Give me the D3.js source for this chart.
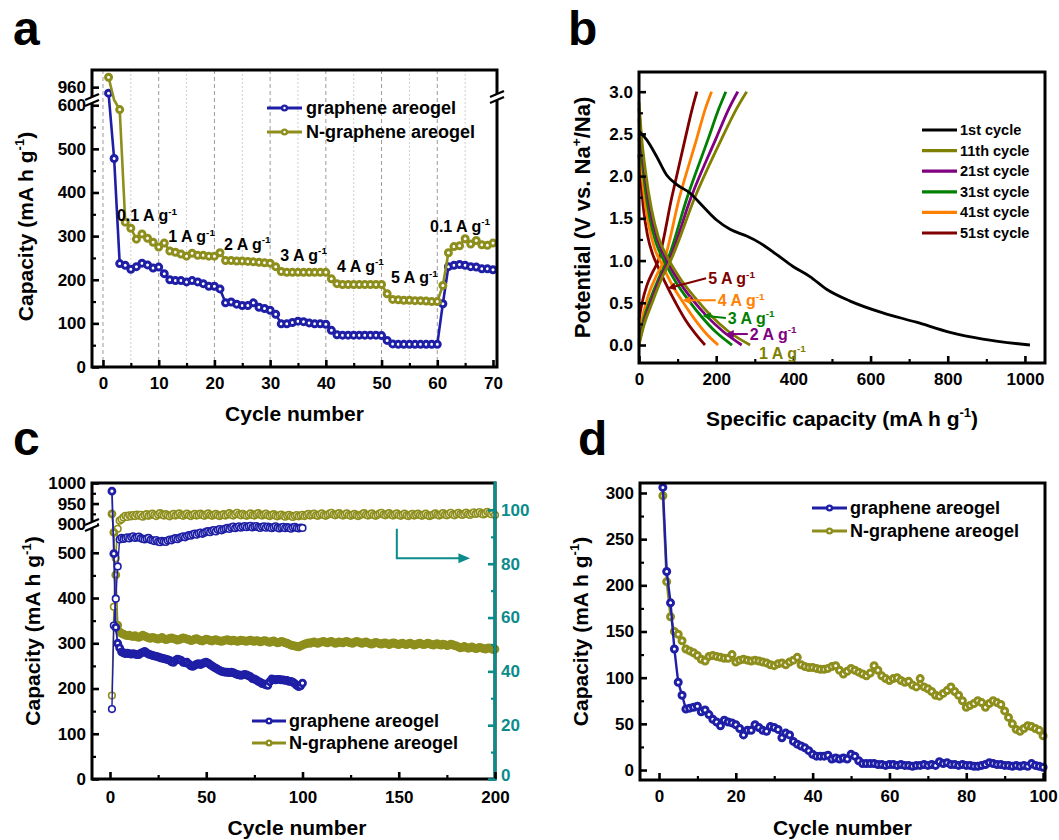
<!DOCTYPE html>
<html><head><meta charset="utf-8">
<script src="https://cdn.jsdelivr.net/npm/d3@7"></script>
<style>body{margin:0;background:#fff}</style>
</head><body><svg id="c" width="1059" height="840"></svg>
<script>
// ---------------- DATA ----------------
// Panel a: rate capability (cycles 1..70)
const cyclesA = d3.range(1, 71);
const blueA = [946,478,237,233,224,230,238,234,227,229,
  214,200,198,198,195,198,195,191,185,185,
  179,147,149,144,141,141,147,137,134,130,
  121,99,99,102,105,104,101,99,99,98,
  84,74,73,73,73,73,73,73,73,72,
  61,53,52,52,52,52,52,52,52,52,
  145,230,233,235,233,230,229,225,225,223];
const oliveA = [983,760,590,332,318,293,305,295,286,275,
  284,266,263,259,254,261,256,256,254,254,
  262,244,244,243,243,242,241,240,239,238,
  230,219,217,217,217,217,217,217,217,217,
  202,191,189,189,189,189,189,189,189,189,
  168,155,154,153,153,152,152,151,150,150,
  187,262,276,278,294,282,290,280,279,284];
const rateLabelsA = ["0.1","1","2","3","4","5","0.1"];
const rateLabelPosA = [[2.5,334],[11.7,286],[21.7,268],[31.8,243],[42,218],[51.7,192],[58.7,309]];
const xTicksA = [0,10,20,30,40,50,60,70];
const yTicksA = [0,100,200,300,400,500,600,960];

// Panel b: charge/discharge profiles [capacity, potential]
const cycleNamesB = ["1st cycle","11th cycle","21st cycle","31st cycle","41st cycle","51st cycle"];
const cycleColorsB = ["#000000","#808000","#800080","#008000","#ff8000","#800000"];
const disB = [
  [[0,2.53],[7,2.5],[20,2.43],[46,2.23],[72,2.01],[98,1.9],[132,1.8],[166,1.64],[201,1.48],[236,1.37],[279,1.29],[313,1.21],[357,1.07],[399,0.93],[443,0.81],[486,0.66],[547,0.52],[632,0.38],[719,0.27],[806,0.15],[891,0.07],[1013,0.0]],
  [[0,2.88],[6,2.5],[17,2.05],[32,1.62],[50,1.28],[76,1.02],[105,0.8],[145,0.56],[188,0.34],[232,0.16],[288,0.0]],
  [[0,2.8],[6,2.42],[16,2.0],[30,1.58],[48,1.25],[72,1.0],[100,0.78],[138,0.54],[178,0.33],[218,0.16],[266,0.0]],
  [[0,2.68],[6,2.3],[15,1.9],[28,1.5],[45,1.2],[68,0.97],[95,0.75],[130,0.52],[165,0.32],[200,0.15],[241,0.0]],
  [[0,2.45],[6,2.1],[14,1.75],[25,1.42],[40,1.15],[60,0.95],[85,0.72],[115,0.5],[145,0.3],[175,0.13],[205,0.0]],
  [[0,2.25],[5,1.95],[12,1.6],[22,1.3],[35,1.08],[50,0.92],[70,0.72],[95,0.5],[120,0.3],[145,0.14],[171,0.0]]
];
const chgB = [
  null,
  [[0,0.0],[12,0.22],[34,0.5],[58,0.78],[84,1.02],[145,1.75],[215,2.45],[253,2.8],[279,3.0]],
  [[0,0.02],[12,0.25],[32,0.52],[56,0.8],[80,1.02],[135,1.75],[200,2.45],[233,2.8],[256,3.0]],
  [[0,0.05],[12,0.3],[30,0.55],[52,0.8],[75,1.02],[125,1.75],[180,2.45],[207,2.8],[225,3.0]],
  [[0,0.12],[10,0.35],[25,0.6],[45,0.82],[65,1.0],[105,1.75],[150,2.45],[172,2.8],[188,3.0]],
  [[0,0.3],[8,0.5],[20,0.7],[35,0.86],[50,1.0],[85,1.75],[120,2.45],[138,2.8],[150,3.0]]
];
const rateLabelsB = ["5","4","3","2","1"];
const rateColorsB = ["#800000","#ff8000","#008000","#800080","#808000"];
// [textX, textY, tipX, tipY] in data units (tip null = no arrow)
const rateLabelPosB = [[174,0.79,80,0.69],[199,0.53,119,0.53],[225,0.32,171,0.34],[282,0.13,231,0.13],[306,-0.09,null,null]];
const xTicksB = [0,200,400,600,800,1000];
const yTicksB = [0,0.5,1,1.5,2,2.5,3];

// Panel c: long cycling at 0.1 A/g (capacity + coulombic efficiency)
const blueCapC = [980,498,335,300,290,281,279,277,278,277,
  276,277,276,275,275,278,280,282,279,276,
  275,273,272,271,270,268,267,266,265,264,
  262,259,258,262,265,264,262,258,257,258,
  254,250,249,251,254,255,253,255,257,258,
  256,253,250,247,245,242,240,238,237,236,
  236,235,236,235,233,231,230,229,230,231,
  230,228,226,222,221,219,216,214,211,210,
  208,207,215,221,220,219,220,220,219,219,
  218,218,216,216,214,211,207,204,206,212];
const blueEffC = [26,57,67,79,89,89.6,89.2,89.5,89.8,89.4,
  89.9,90.2,89.6,89.8,90.1,89.5,89.2,89.0,89.3,89.6,
  88.9,88.7,88.4,88.8,88.2,88.0,88.5,88.3,88.1,88.6,
  89.0,88.7,89.2,89.5,89.1,89.6,89.9,90.2,89.8,90.3,
  90.6,90.4,90.9,91.2,90.8,91.3,91.6,91.1,91.5,91.9,
  92.1,91.7,92.3,92.5,92.0,92.6,92.9,92.4,92.8,93.1,
  93.3,92.9,93.5,93.8,93.2,93.6,93.9,93.4,93.7,94.0,
  93.6,93.9,94.1,93.5,93.8,94.0,93.6,93.3,93.7,93.9,
  93.4,93.8,93.5,93.2,93.6,93.9,93.4,93.1,93.5,93.7,
  93.2,93.6,93.4,93.0,93.5,93.7,93.3,93.1,93.4,93.3];
const oliveCapC = [925,545,451,340,325,322,320,318,317,318,
  316,315,317,314,313,315,318,316,314,312,
  311,313,312,310,309,311,313,310,308,309,
  311,312,310,309,307,308,310,312,311,309,
  308,306,307,309,310,308,306,305,307,309,
  308,306,305,307,308,306,305,304,306,307,
  308,306,305,307,306,304,305,307,306,305,
  304,306,307,305,304,306,305,303,304,306,
  305,303,302,304,305,303,301,302,304,303,
  301,300,298,296,295,294,293,292,294,296,
  298,299,301,300,302,303,301,300,302,303,
  304,302,301,303,304,302,300,301,303,302,
  301,303,304,302,301,300,302,304,303,301,
  300,302,303,301,299,298,300,302,301,299,
  298,300,301,299,297,299,301,300,298,297,
  299,300,298,297,299,300,298,296,297,299,
  300,298,297,298,300,299,297,296,298,299,
  297,296,298,297,295,296,298,297,295,294,
  292,290,291,293,291,289,290,292,290,288,
  289,291,290,288,287,289,290,288,286,287];
const oliveEffC = [31,64,82,93,96,96.5,97.2,97.8,97.4,98.0,
  97.6,98.1,97.7,98.3,97.9,98.2,97.5,98.0,98.4,97.8,
  98.2,98.6,98.1,97.7,98.3,98.8,98.2,97.9,98.4,98.0,
  97.6,98.1,98.5,97.9,98.2,98.7,98.1,97.8,98.3,98.6,
  98.0,97.7,98.2,98.5,97.9,98.1,98.6,98.2,97.8,98.3,
  98.7,98.1,97.8,98.2,98.5,98.0,97.7,98.1,98.4,97.9,
  98.3,98.8,98.2,97.9,98.4,98.9,98.3,98.0,98.5,98.1,
  97.8,98.2,98.7,98.1,97.9,98.4,98.8,98.2,97.9,98.3,
  98.6,98.0,97.7,98.1,98.4,97.9,97.6,98.0,98.3,97.8,
  97.5,97.9,98.2,97.7,97.4,97.8,98.1,97.6,97.9,98.2,
  97.7,98.1,98.5,97.9,98.2,98.6,98.0,97.8,98.3,98.7,
  98.1,97.8,98.2,98.6,98.9,98.3,98.0,98.4,98.8,98.2,
  97.9,98.3,98.7,98.1,97.8,98.2,98.5,98.0,97.7,98.1,
  98.4,98.8,98.2,97.9,98.3,98.7,98.1,97.8,98.2,98.6,
  98.9,98.3,98.0,98.4,98.8,98.2,97.9,98.3,98.7,98.1,
  97.8,98.2,98.6,98.0,97.7,98.1,98.5,97.9,98.2,98.6,
  98.1,97.8,98.2,98.6,98.0,97.7,98.0,98.3,98.7,98.2,
  97.9,98.3,98.8,98.2,98.0,98.4,98.9,98.3,98.0,98.5,
  98.9,98.4,98.1,98.5,99.0,98.4,98.1,98.6,99.1,98.5,
  98.8,99.2,98.6,98.3,98.7,99.3,98.8,98.4,98.9,98.1];
const xTicksC = [0,50,100,150,200];
const yTicksC = [0,100,200,300,400,500,900,950,1000];
const yTicksEffC = [0,20,40,60,80,100];

// Panel d: long cycling at high rate
const blueD = [306,215,181,131,95,81,66,67,68,69,
  63,65,60,55,52,48,54,52,51,49,
  45,38,43,43,49,46,43,42,47,46,
  44,35,40,38,31,28,26,24,21,17,
  15,15,15,16,12,13,12,13,12,17,
  15,10,7,7,7,7,6,6,5,6,
  6,5,6,5,5,4,5,5,6,5,
  6,5,9,7,8,6,6,5,6,5,
  5,4,4,5,6,8,7,6,6,5,
  5,4,5,4,5,4,7,5,4,3];
const oliveD = [297,204,166,150,147,140,131,129,127,124,
  120,118,123,124,123,122,121,121,125,117,
  119,120,119,118,119,118,117,116,114,113,
  115,116,114,117,119,122,114,112,111,111,
  110,109,109,110,112,113,108,104,107,110,
  108,106,104,102,105,113,108,102,99,97,
  99,100,97,95,96,92,90,99,90,88,
  85,81,80,83,86,90,85,81,75,68,
  70,72,75,73,68,72,75,73,71,64,
  57,50,44,42,45,48,47,45,43,37];
const xTicksD = [0,20,40,60,80,100];
const yTicksD = [0,50,100,150,200,250,300];

const seriesNames = ["graphene areogel","N-graphene areogel"];

// ---------------- DRAWING ----------------
const FONT = '"Liberation Sans", Arial, sans-serif';
const BLUE = "#1e1ea6", OLIVE = "#8e8e1c", TEAL = "#0b8b8b";
const TICK = 17, TITLE = 21, LEG = 18;
const svg = d3.select("#c");

function styleText(sel, size, color) {
  return sel.attr("font-family", FONT).attr("font-weight", "bold")
    .attr("font-size", size).attr("fill", color || "#000");
}
// parts: array of [string, isSup]
function richText(g, x, y, parts, size, opts) {
  opts = opts || {};
  const t = styleText(g.append("text"), size, opts.color)
    .attr("x", x).attr("y", y).attr("text-anchor", opts.anchor || "start");
  if (opts.rotate) t.attr("transform", `rotate(-90,${x},${y})`);
  let shift = 0;
  parts.forEach(p => {
    const ts = t.append("tspan").text(p[0]);
    const target = p[1] ? -size * 0.42 : 0;
    ts.attr("dy", target - shift);
    if (p[1]) ts.attr("font-size", size * 0.62);
    shift = target;
  });
  return t;
}
function frame(L, R, T, B) {
  svg.append("rect").attr("x", L).attr("y", T).attr("width", R - L).attr("height", B - T)
    .attr("fill", "none").attr("stroke", "#000").attr("stroke-width", 3);
}
function drawAxis(gen, tr, color) {
  const a = svg.append("g").attr("transform", tr).call(gen);
  a.select(".domain").remove();
  a.selectAll("line").attr("stroke", color || "#000").attr("stroke-width", 2.6);
  styleText(a.selectAll("text"), TICK, color || "#000");
  return a;
}
function minorAxis(gen, tr, color) {
  const a = svg.append("g").attr("transform", tr).call(gen.tickFormat(""));
  a.select(".domain").remove();
  a.selectAll("line").attr("stroke", color || "#000").attr("stroke-width", 2.2);
  return a;
}
function breakMark(x, y) {
  const g = svg.append("g");
  g.append("rect").attr("x", x - 5).attr("y", y - 3).attr("width", 10).attr("height", 6).attr("fill", "#fff");
  [-3, 3].forEach(d => g.append("line").attr("x1", x - 7).attr("y1", y + d + 3).attr("x2", x + 7).attr("y2", y + d - 3)
    .attr("stroke", "#000").attr("stroke-width", 2.2));
}
function markers(g, data, x, y, color, r, sw) {
  g.selectAll(null).data(data).enter().append("circle")
    .attr("cx", d => x(d[0])).attr("cy", d => y(d[1])).attr("r", r)
    .attr("fill", "#fff").attr("stroke", color).attr("stroke-width", sw);
}
function legendPair(x0, x1, tx, ys) {
  [BLUE, OLIVE].forEach((c, i) => {
    svg.append("line").attr("x1", x0).attr("x2", x1).attr("y1", ys[i]).attr("y2", ys[i])
      .attr("stroke", c).attr("stroke-width", 3);
    svg.append("circle").attr("cx", (x0 + x1) / 2).attr("cy", ys[i]).attr("r", 2.4)
      .attr("fill", "#fff").attr("stroke", c).attr("stroke-width", 2.4);
    styleText(svg.append("text"), LEG).attr("x", tx).attr("y", ys[i] + LEG * 0.36).text(seriesNames[i]);
  });
}
const capTitle = [["Capacity (mA h g", false], ["-1", true], [")", false]];

// ---------- Panel a ----------
(function () {
  const L = 92, R = 497, T = 70, B = 367;
  const x = d3.scaleLinear().domain([-1.97, 70.72]).range([L, R]);
  const y = d3.scaleLinear().domain([0, 612, 930, 1000]).range([B, 100, 100, T]);
  d3.range(0, 70, 5).forEach(v => {
    svg.append("line").attr("x1", x(v)).attr("x2", x(v)).attr("y1", T).attr("y2", B)
      .attr("stroke", v % 10 === 0 ? "#9a9a9a" : "#cfcfcf").attr("stroke-width", 1)
      .attr("stroke-dasharray", v % 10 === 0 ? "4,3" : "2,2");
  });
  const inGap = v => v > 612 && v < 930;
  const gB = svg.append("g"), gO = svg.append("g");
  const line = d3.line().x(d => x(d[0])).y(d => y(d[1]));
  const dB = cyclesA.map((c, i) => [c, blueA[i]]);
  const dO = cyclesA.map((c, i) => [c, oliveA[i]]);
  gB.append("path").attr("d", line(dB)).attr("fill", "none").attr("stroke", BLUE).attr("stroke-width", 2.6);
  gO.append("path").attr("d", line(dO)).attr("fill", "none").attr("stroke", OLIVE).attr("stroke-width", 2.6);
  markers(gB, dB.filter(d => !inGap(d[1])), x, y, BLUE, 3.0, 3.0);
  markers(gO, dO.filter(d => !inGap(d[1])), x, y, OLIVE, 3.0, 3.0);
  frame(L, R, T, B);
  drawAxis(d3.axisBottom(x).tickValues(xTicksA).tickSize(-7).tickPadding(10).tickFormat(d3.format("d")), `translate(0,${B})`);
  minorAxis(d3.axisBottom(x).tickValues(d3.range(5, 70, 10)).tickSize(-4), `translate(0,${B})`);
  drawAxis(d3.axisLeft(y).tickValues(yTicksA).tickSize(-7).tickPadding(6).tickFormat(d3.format("d")), `translate(${L},0)`);
  minorAxis(d3.axisLeft(y).tickValues(d3.range(50, 600, 100)).tickSize(-4), `translate(${L},0)`);
  breakMark(L, 100); breakMark(R, 97);
  rateLabelsA.forEach((s, i) => {
    const p = rateLabelPosA[i];
    richText(svg, x(p[0]), y(p[1]), [[s + " A g", false], ["-1", true]], 16);
  });
  legendPair(267, 302, 306, [108, 132]);
  richText(svg, 33, (T + B) / 2 + 8, capTitle, TITLE, { anchor: "middle", rotate: true });
  richText(svg, (L + R) / 2, 421, [["Cycle number", false]], TITLE, { anchor: "middle" });
  styleText(svg.append("text"), 48).attr("x", 13).attr("y", 45).text("a");
})();

// ---------- Panel b ----------
(function () {
  const L = 639, R = 1045, T = 72, B = 363;
  const x = d3.scaleLinear().domain([0, 1052]).range([L, R]);
  const y = d3.scaleLinear().domain([-0.213, 3.233]).range([B, T]);
  const line = d3.line().x(d => x(d[0])).y(d => y(d[1])).curve(d3.curveMonotoneX);
  for (let i = cycleNamesB.length - 1; i >= 0; i--) {
    [disB[i], chgB[i]].forEach(d => {
      if (!d) return;
      svg.append("path").attr("d", line(d)).attr("fill", "none")
        .attr("stroke", cycleColorsB[i]).attr("stroke-width", 2.8);
    });
  }
  frame(L, R, T, B);
  drawAxis(d3.axisBottom(x).tickValues(xTicksB).tickSize(-7).tickPadding(10).tickFormat(d3.format("d")), `translate(0,${B})`);
  minorAxis(d3.axisBottom(x).tickValues(d3.range(100, 1100, 200)).tickSize(-4), `translate(0,${B})`);
  drawAxis(d3.axisLeft(y).tickValues(yTicksB).tickSize(-7).tickPadding(6).tickFormat(d3.format(".1f")), `translate(${L},0)`);
  minorAxis(d3.axisLeft(y).tickValues(d3.range(0.25, 3.2, 0.5)).tickSize(-4), `translate(${L},0)`);
  cycleNamesB.forEach((n, i) => {
    const yy = 130 + i * 20.6;
    svg.append("line").attr("x1", 922).attr("x2", 957).attr("y1", yy).attr("y2", yy)
      .attr("stroke", cycleColorsB[i]).attr("stroke-width", 3.2);
    styleText(svg.append("text"), 14.5).attr("x", 960).attr("y", yy + 5).text(n);
  });
  const defs = svg.append("defs");
  rateLabelsB.forEach((s, i) => {
    const p = rateLabelPosB[i], c = rateColorsB[i];
    if (p[2] !== null) {
      defs.append("marker").attr("id", "ah" + i).attr("viewBox", "0 0 10 10").attr("refX", 2).attr("refY", 5)
        .attr("markerWidth", 4).attr("markerHeight", 4).attr("orient", "auto-start-reverse")
        .append("path").attr("d", "M0,0L10,5L0,10z").attr("fill", c);
      svg.append("line").attr("x1", x(p[0])).attr("y1", y(p[1])).attr("x2", x(p[2]) + 4).attr("y2", y(p[3]))
        .attr("stroke", c).attr("stroke-width", 2).attr("marker-end", `url(#ah${i})`);
    }
    richText(svg, x(p[0]) + 2, y(p[1]) + 6, [[s + " A g", false], ["-1", true]], 16, { color: c });
  });
  richText(svg, 590, (T + B) / 2, [["Potential (V vs. Na", false], ["+", true], ["/Na)", false]], TITLE + 1, { anchor: "middle", rotate: true });
  richText(svg, (L + R) / 2, 426, [["Specific capacity (mA h g", false], ["-1", true], [")", false]], TITLE, { anchor: "middle" });
  styleText(svg.append("text"), 48).attr("x", 568).attr("y", 45).text("b");
})();

// ---------- Panel c ----------
(function () {
  const L = 92, R = 495, T = 483, B = 779;
  const x = d3.scaleLinear().domain([-9.35, 200]).range([L, R]);
  const y = d3.scaleLinear().domain([0, 557, 893, 1000]).range([B, 527, 527, T]);
  const yE = d3.scaleLinear().domain([0, 110]).range([B, T]);
  const lineC = d3.line().x(d => x(d[0])).y(d => y(d[1]));
  const lineE = d3.line().x(d => x(d[0])).y(d => yE(d[1]));
  const bc = blueCapC.map((v, i) => [i + 1, v]), be = blueEffC.map((v, i) => [i + 1, v]);
  const oc = oliveCapC.map((v, i) => [i + 1, v]), oe = oliveEffC.map((v, i) => [i + 1, v]);
  const gO = svg.append("g"), gB = svg.append("g");
  gO.append("path").attr("d", lineE(oe)).attr("fill", "none").attr("stroke", OLIVE).attr("stroke-width", 1.4);
  gO.append("path").attr("d", lineC(oc)).attr("fill", "none").attr("stroke", OLIVE).attr("stroke-width", 1.8);
  markers(gO, oe, x, yE, OLIVE, 3.3, 1.6);
  markers(gO, oc, x, y, OLIVE, 3.0, 2.8);
  gB.append("path").attr("d", lineE(be)).attr("fill", "none").attr("stroke", BLUE).attr("stroke-width", 1.4);
  gB.append("path").attr("d", lineC(bc)).attr("fill", "none").attr("stroke", BLUE).attr("stroke-width", 1.8);
  markers(gB, be, x, yE, BLUE, 3.3, 1.6);
  markers(gB, bc, x, y, BLUE, 3.0, 2.8);
  frame(L, R, T, B);
  svg.append("line").attr("x1", R).attr("x2", R).attr("y1", T - 1.5).attr("y2", B + 1.5).attr("stroke", TEAL).attr("stroke-width", 3);
  drawAxis(d3.axisBottom(x).tickValues(xTicksC).tickSize(-7).tickPadding(12).tickFormat(d3.format("d")), `translate(0,${B})`);
  minorAxis(d3.axisBottom(x).tickValues([25, 75, 125, 175]).tickSize(-4), `translate(0,${B})`);
  drawAxis(d3.axisLeft(y).tickValues(yTicksC).tickSize(-7).tickPadding(6).tickFormat(d3.format("d")), `translate(${L},0)`);
  minorAxis(d3.axisLeft(y).tickValues([50, 150, 250, 350, 450, 925, 975]).tickSize(-4), `translate(${L},0)`);
  const ra = drawAxis(d3.axisRight(yE).tickValues(yTicksEffC).tickSize(-7).tickPadding(6).tickFormat(d3.format("d")), `translate(${R},0)`, TEAL);
  ra.selectAll("text").filter(d => d === 0).attr("dy", "0.1em");
  minorAxis(d3.axisRight(yE).tickValues([10, 30, 50, 70, 90]).tickSize(-4), `translate(${R},0)`, TEAL);
  breakMark(L, 525);
  const arrowPts = [[149, 93], [149, 82], [182, 82]];
  svg.append("path").attr("d", d3.line().x(d => x(d[0])).y(d => yE(d[1]))(arrowPts))
    .attr("fill", "none").attr("stroke", TEAL).attr("stroke-width", 2);
  svg.append("path").attr("d", `M${x(181)},${yE(82) - 5}L${x(187)},${yE(82)}L${x(181)},${yE(82) + 5}Z`).attr("fill", TEAL);
  legendPair(252, 286, 289, [721, 743]);
  richText(svg, 40, (T + B) / 2, capTitle, TITLE, { anchor: "middle", rotate: true });
  richText(svg, 297, 835, [["Cycle number", false]], TITLE, { anchor: "middle" });
  styleText(svg.append("text"), 48).attr("x", 13).attr("y", 455).text("c");
})();

// ---------- Panel d ----------
(function () {
  const L = 640, R = 1045, T = 483, B = 780;
  const x = d3.scaleLinear().domain([-4.95, 100.5]).range([L, R]);
  const y = d3.scaleLinear().domain([-10.8, 310.8]).range([B, T]);
  const line = d3.line().x(d => x(d[0])).y(d => y(d[1]));
  const dO = oliveD.map((v, i) => [i + 1, v]), dB = blueD.map((v, i) => [i + 1, v]);
  const gO = svg.append("g"), gB = svg.append("g");
  gB.append("path").attr("d", line(dB)).attr("fill", "none").attr("stroke", BLUE).attr("stroke-width", 2.4);
  markers(gB, dB, x, y, BLUE, 3.0, 3.0);
  gO.append("path").attr("d", line(dO)).attr("fill", "none").attr("stroke", OLIVE).attr("stroke-width", 2.4);
  markers(gO, dO, x, y, OLIVE, 3.0, 3.0);
  frame(L, R, T, B);
  drawAxis(d3.axisBottom(x).tickValues(xTicksD).tickSize(-7).tickPadding(10).tickFormat(d3.format("d")), `translate(0,${B})`);
  minorAxis(d3.axisBottom(x).tickValues(d3.range(10, 100, 20)).tickSize(-4), `translate(0,${B})`);
  drawAxis(d3.axisLeft(y).tickValues(yTicksD).tickSize(-7).tickPadding(6).tickFormat(d3.format("d")), `translate(${L},0)`);
  minorAxis(d3.axisLeft(y).tickValues(d3.range(25, 300, 50)).tickSize(-4), `translate(${L},0)`);
  legendPair(812, 847, 850, [508, 531]);
  richText(svg, 588, (T + B) / 2, capTitle, TITLE, { anchor: "middle", rotate: true });
  richText(svg, (L + R) / 2, 835, [["Cycle number", false]], TITLE, { anchor: "middle" });
  styleText(svg.append("text"), 48).attr("x", 578).attr("y", 455).text("d");
})();
</script></body></html>
